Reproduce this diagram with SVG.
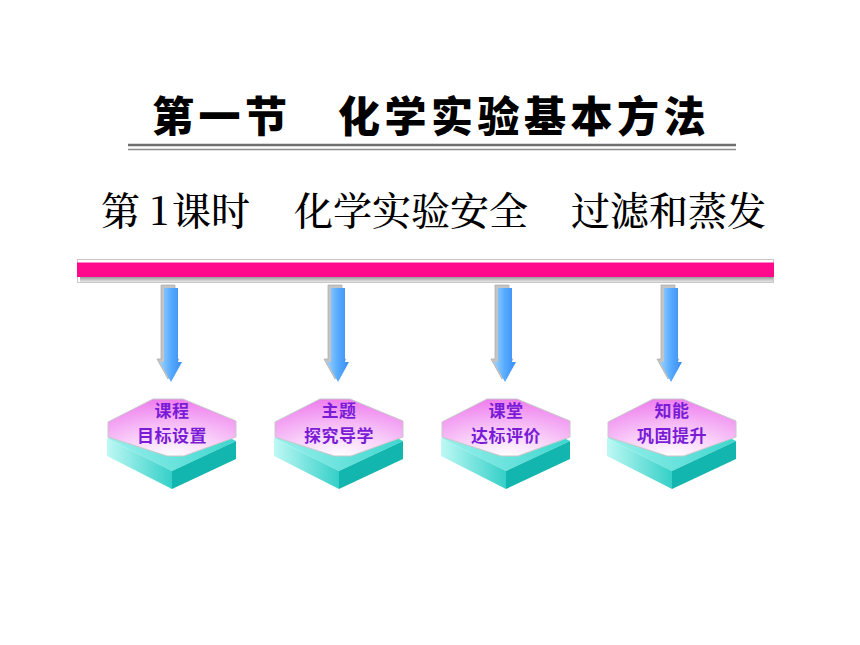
<svg xmlns="http://www.w3.org/2000/svg" width="860" height="645" viewBox="0 0 860 645">
<defs>
<style>
.title{font-family:"Noto Sans CJK SC","Noto Sans CJK TC",sans-serif;font-size:42px;font-weight:900;fill:#000;letter-spacing:4.5px}
.sub{font-family:"Noto Serif CJK SC","Noto Sans CJK SC",serif;font-size:39px;font-weight:500;fill:#000}
.lbl{font-family:"Noto Sans CJK SC",sans-serif;font-size:17px;font-weight:700;fill:#7A1CD6;text-anchor:middle;letter-spacing:0.5px}
.pink{fill:url(#gPink);stroke:#C8C8C8;stroke-width:1}
.ttop{fill:url(#gTealTop)}
.tleft{fill:url(#gTealLeft)}
.tright{fill:#12B6AE}
.arrow{fill:url(#gBlue)}
.ashadow{fill:#C4C4C4;stroke:#B0B0B0;stroke-width:0.8}
</style>
<radialGradient id="gPink" cx="0.5" cy="1" r="1">
<stop offset="0" stop-color="#FFFFFF"/>
<stop offset="0.4" stop-color="#F9D2F9"/>
<stop offset="1" stop-color="#EE7EEE"/>
</radialGradient>
<linearGradient id="gTealTop" x1="0" y1="0" x2="1" y2="0">
<stop offset="0" stop-color="#9AF0EC"/>
<stop offset="1" stop-color="#3ED6CF"/>
</linearGradient>
<linearGradient id="gTealLeft" x1="0" y1="0" x2="1" y2="0">
<stop offset="0" stop-color="#BEF8F4"/>
<stop offset="1" stop-color="#34D0C8"/>
</linearGradient>
<linearGradient id="gBlue" x1="0" y1="0" x2="1" y2="0">
<stop offset="0" stop-color="#9AD2FF"/>
<stop offset="0.5" stop-color="#56AAFF"/>
<stop offset="1" stop-color="#3A8EF0"/>
</linearGradient>
<linearGradient id="gBarShadow" x1="0" y1="0" x2="0" y2="1">
<stop offset="0" stop-color="#9A9A9A"/>
<stop offset="1" stop-color="#E8E8E8"/>
</linearGradient>
<g id="slab">
<polygon class="ttop" points="107,438 172,410 236,441 172,471"/>
<polygon class="tleft" points="107,438 172,471 172,489 107,456"/>
<polygon class="tright" points="172,471 236,441 236,459 172,489"/>
<polygon class="pink" points="153,399 183,399 236,421 236,437 184,456 167,456 108,437 108,422"/>
</g>
<path id="arr" d="M164,288 H178 V362 H182 L171,382 L160,362 H164 Z"/>
</defs>
<rect width="860" height="645" fill="#FFFFFF"/>
<g id="title">
<text class="title" x="152" y="132">第一节　化学实验基本方法</text>
<line x1="128" y1="145" x2="736" y2="145" stroke="#6E6E6E" stroke-width="2.5"/>
<line x1="128" y1="149.5" x2="736" y2="149.5" stroke="#8C8C8C" stroke-width="1.5"/>
</g>
<g id="subtitle">
<text class="sub" y="225"><tspan x="101">第</tspan><tspan x="150">1</tspan><tspan x="172">课时</tspan><tspan x="294">化学实验安全</tspan><tspan x="571">过滤和蒸发</tspan></text>
</g>
<g id="bar">
<rect x="77.5" y="259.5" width="696" height="23" fill="#FFFFFF" stroke="#C8C8C8" stroke-width="1"/>
<rect x="80" y="277" width="693" height="5" fill="url(#gBarShadow)"/>
<rect x="77" y="262.5" width="697" height="14.5" fill="#FF0A8C"/>
</g>
<g id="connectors">
<g><use href="#arr" class="ashadow" transform="translate(-3,-3)"/><use href="#arr" class="arrow"/></g>
<g transform="translate(167,0)"><use href="#arr" class="ashadow" transform="translate(-3,-3)"/><use href="#arr" class="arrow"/></g>
<g transform="translate(334,0)"><use href="#arr" class="ashadow" transform="translate(-3,-3)"/><use href="#arr" class="arrow"/></g>
<g transform="translate(500,0)"><use href="#arr" class="ashadow" transform="translate(-3,-3)"/><use href="#arr" class="arrow"/></g>
</g>
<g id="node1">
<use href="#slab"/>
<text class="lbl"><tspan x="172" y="417">课程</tspan><tspan x="172" y="442">目标设置</tspan></text>
</g>
<g id="node2">
<use href="#slab" transform="translate(167,0)"/>
<text class="lbl"><tspan x="339" y="417">主题</tspan><tspan x="339" y="442">探究导学</tspan></text>
</g>
<g id="node3">
<use href="#slab" transform="translate(334,0)"/>
<text class="lbl"><tspan x="506" y="417">课堂</tspan><tspan x="506" y="442">达标评价</tspan></text>
</g>
<g id="node4">
<use href="#slab" transform="translate(500,0)"/>
<text class="lbl"><tspan x="672" y="417">知能</tspan><tspan x="672" y="442">巩固提升</tspan></text>
</g>
</svg>
